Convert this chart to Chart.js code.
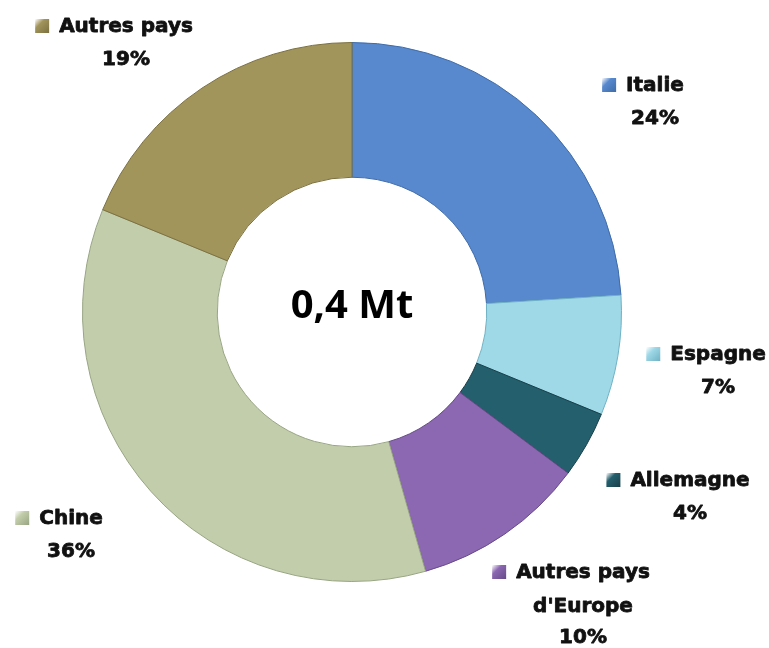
<!DOCTYPE html>
<html>
<head>
<meta charset="utf-8">
<script src="https://cdn.jsdelivr.net/npm/chart.js@4"></script>
<style>
  html, body { margin: 0; padding: 0; background: #ffffff; }
  #wrap { width: 769px; height: 648px; position: relative; }
</style>
</head>
<body>
<div id="wrap"><canvas id="donut" width="769" height="648"></canvas></div>
<script>
// data (percent of total, clockwise from 12 o'clock)
const categories = ['Italie', 'Espagne', 'Allemagne', "Autres pays d'Europe", 'Chine', 'Autres pays']
const labelLines = [['Italie'], ['Espagne'], ['Allemagne'], ['Autres pays', "d'Europe"], ['Chine'], ['Autres pays']]
const shares = [24.0, 7.2, 4.0, 10.4, 35.6, 18.8]
const centerText = '0,4 Mt'

const colors = ['#5889cf', '#9fd8e7', '#245f6d', '#8b68b1', '#c2cdab', '#a2955b']
const edges = ['#3f6ca8', '#6fb2c4', '#163f49', '#674a88', '#98a583', '#7b7040']
// text centre x and first-line y of each label block
const labelPos = [[655, 85], [718, 354], [690, 480], [583, 572], [71, 518], [126, 26]]

const font = '"DejaVu Sans", sans-serif'

const labelsPlugin = {
  id: 'sliceLabels',
  afterDraw(chart) {
    const ctx = chart.ctx
    ctx.save()
    ctx.textBaseline = 'middle'
    ctx.font = 'bold 20px ' + font
    ctx.lineJoin = 'round'
    categories.forEach((name, i) => {
      const [tx, y0] = labelPos[i]
      const lines = labelLines[i].concat([Math.round(shares[i]) + '%'])
      const w0 = ctx.measureText(lines[0]).width
      const mx = tx - w0 / 2 - 24
      const g = ctx.createLinearGradient(mx, y0 - 7, mx + 14, y0 + 7)
      g.addColorStop(0, '#ffffff')
      g.addColorStop(0.35, colors[i])
      g.addColorStop(1, edges[i])
      ctx.fillStyle = g
      ctx.fillRect(mx, y0 - 7, 14, 14)
      ctx.fillStyle = '#111111'
      ctx.strokeStyle = '#111111'
      ctx.lineWidth = 0.8
      ctx.textAlign = 'center'
      const steps = lines.length > 2 ? [0, 34, 65] : [0, 33]
      lines.forEach((t, k) => {
        ctx.fillText(t, tx, y0 + 1 + steps[k])
        ctx.strokeText(t, tx, y0 + 1 + steps[k])
      })
    })
    // centre text
    const meta = chart.getDatasetMeta(0).data[0]
    ctx.font = 'bold 40px "Noto Sans", "Open Sans", sans-serif'
    ctx.textAlign = 'center'
    ctx.fillStyle = '#000000'
    ctx.fillText(centerText, meta.x, meta.y - 5)
    ctx.restore()
  }
}

new Chart(document.getElementById('donut').getContext('2d'), {
  type: 'doughnut',
  data: {
    labels: categories,
    datasets: [{
      data: shares,
      backgroundColor: colors,
      borderColor: edges,
      borderWidth: 1
    }]
  },
  options: {
    responsive: false,
    animation: false,
    cutout: '50%',
    layout: { padding: { left: 82, right: 147, top: 42, bottom: 66 } },
    plugins: {
      legend: { display: false },
      tooltip: { enabled: false }
    }
  },
  plugins: [labelsPlugin]
})
</script>
</body>
</html>
